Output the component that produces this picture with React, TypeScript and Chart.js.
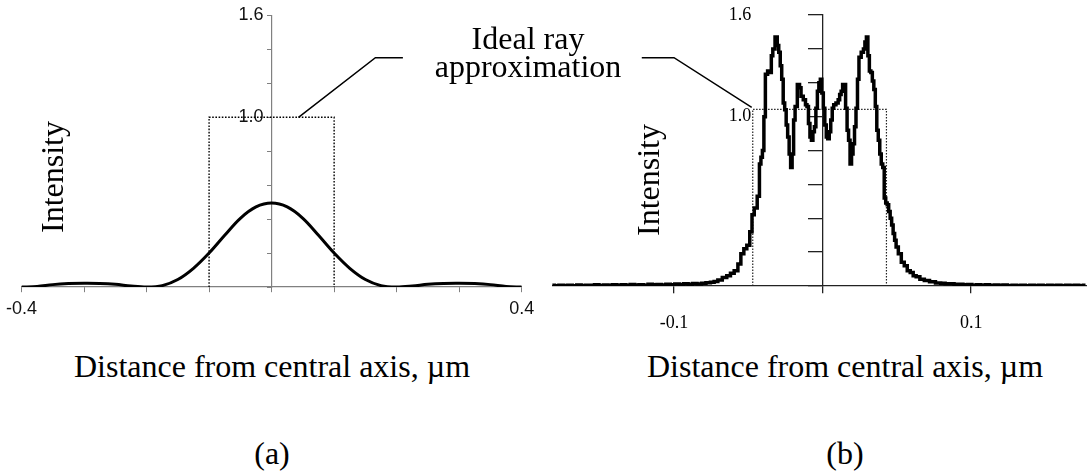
import React, { useEffect, useRef } from "react";
import { Chart, registerables } from "chart.js";

Chart.register(...registerables);

// ---------- Panel (a): data ----------
const aX = [
  -0.4, -0.375, -0.35, -0.325, -0.3, -0.275, -0.25, -0.225, -0.2, -0.175, -0.15, -0.125, -0.1, -0.075, -0.05, -0.025,
  0, 0.025, 0.05, 0.075, 0.1, 0.125, 0.15, 0.175, 0.2, 0.225, 0.25, 0.275, 0.3, 0.325, 0.35, 0.375, 0.4,
];
const aIntensity = [
  0.0, 0.003, 0.014, 0.02, 0.022, 0.021, 0.016, 0.006, 0.0, 0.008, 0.044, 0.11, 0.2, 0.305, 0.405, 0.472,
  0.495, 0.472, 0.405, 0.305, 0.2, 0.11, 0.044, 0.008, 0.0, 0.006, 0.016, 0.021, 0.022, 0.02, 0.014, 0.003, 0.0,
];
const aIdealX = [-0.1, -0.1, 0.1, 0.1];
const aIdealY = [0, 1.0, 1.0, 0];
const aCalloutX = [0.043, 0.166, 0.21];
const aCalloutY = [1.0, 1.351, 1.351];
const aYTickLabels = ["1.6", "1.0"];
const aXTickLabels = ["-0.4", "0.4"];

// ---------- Panel (b): data ----------
const bX = [
  // left tail
  -0.182, -0.179, -0.176, -0.173, -0.17, -0.167, -0.164, -0.161, -0.158, -0.155, -0.152, -0.149, -0.146, -0.143,
  -0.14, -0.137, -0.134, -0.131, -0.128, -0.125, -0.122, -0.119, -0.116, -0.113, -0.11, -0.107, -0.104, -0.101,
  -0.098, -0.095, -0.092, -0.089, -0.086, -0.083, -0.08, -0.077, -0.074, -0.072,
  // central part
  -0.069, -0.066, -0.063, -0.061, -0.058, -0.056, -0.054, -0.052, -0.05, -0.048, -0.047, -0.045,
  -0.043, -0.042, -0.041, -0.04, -0.039, -0.038, -0.036, -0.035, -0.034, -0.033, -0.031, -0.03, -0.029, -0.028,
  -0.027, -0.026, -0.025, -0.024, -0.023, -0.022, -0.021, -0.02, -0.019, -0.018, -0.016, -0.015, -0.014, -0.012,
  -0.011, -0.01, -0.009, -0.008, -0.007, -0.006, -0.005, -0.004, -0.003, -0.002, -0.001, 0.0, 0.001, 0.002,
  0.003, 0.004, 0.005, 0.006, 0.007, 0.008, 0.01, 0.011, 0.012, 0.013, 0.014, 0.015, 0.016, 0.017, 0.018, 0.019,
  0.02, 0.021, 0.022, 0.023, 0.024, 0.025, 0.027, 0.028, 0.029, 0.03, 0.031, 0.032, 0.033, 0.034, 0.035, 0.036,
  0.037, 0.038, 0.039, 0.04, 0.041, 0.042, 0.043, 0.044, 0.045, 0.046, 0.047, 0.048, 0.049, 0.05, 0.052, 0.054,
  0.056, 0.058, 0.06, 0.062, 0.064, 0.067, 0.07, 0.074, 0.078,
  // right tail
  0.081, 0.084, 0.087, 0.09, 0.093, 0.096, 0.099, 0.102, 0.105, 0.108, 0.111, 0.114, 0.117, 0.12, 0.123,
  0.126, 0.129, 0.132, 0.135, 0.138, 0.141, 0.144, 0.147, 0.15, 0.153, 0.156, 0.159, 0.162, 0.165, 0.168,
  0.171, 0.174, 0.177,
];
const bIntensity = [
  // left tail
  0.004, 0.002, 0.005, 0.003, 0.004, 0.002, 0.006, 0.003, 0.005, 0.004, 0.007, 0.003, 0.006, 0.004,
  0.008, 0.005, 0.007, 0.004, 0.009, 0.006, 0.008, 0.005, 0.01, 0.007, 0.009, 0.006, 0.011, 0.008,
  0.012, 0.009, 0.013, 0.011, 0.015, 0.012, 0.016, 0.019, 0.022, 0.026,
  // central part
  0.035, 0.05, 0.06, 0.075, 0.09, 0.13, 0.19, 0.22, 0.24, 0.32, 0.42, 0.46,
  0.53, 0.72, 0.76, 0.8, 1.0, 1.25, 1.27, 1.26, 1.36, 1.4, 1.47, 1.42, 1.38, 1.3,
  1.22, 1.08, 1.04, 0.95, 0.88, 0.78, 0.7, 0.78, 0.98, 1.06, 1.19, 1.17, 1.12, 1.1,
  1.07, 1.06, 0.96, 0.88, 0.86, 0.91, 0.94, 1.05, 1.15, 1.2, 1.22, 1.14, 1.05, 0.95,
  0.88, 0.87, 0.91, 0.98, 1.05, 1.07, 1.08, 1.1, 1.13, 1.15, 1.19, 1.19, 1.05, 0.92, 0.86, 0.72,
  0.78, 0.84, 0.94, 1.05, 1.22, 1.35, 1.38, 1.4, 1.44, 1.47, 1.36, 1.27, 1.26, 1.21, 1.16, 1.06,
  0.92, 0.86, 0.78, 0.72, 0.7, 0.52, 0.49, 0.48, 0.44, 0.4, 0.36, 0.31, 0.27, 0.23, 0.19, 0.14,
  0.12, 0.09, 0.08, 0.06, 0.055, 0.04, 0.033, 0.025, 0.018,
  // right tail
  0.016, 0.013, 0.014, 0.01, 0.011, 0.007, 0.009, 0.005, 0.008, 0.004, 0.007, 0.003, 0.006, 0.004, 0.006,
  0.002, 0.005, 0.003, 0.005, 0.002, 0.005, 0.003, 0.004, 0.002, 0.005, 0.003, 0.004, 0.002, 0.004, 0.003,
  0.005, 0.002, 0.004,
];
const bIdealX = [-0.047, -0.047, 0.043, 0.043];
const bIdealY = [0, 1.043, 1.043, 0];
const bCalloutX = [-0.0477, -0.1, -0.1217];
const bCalloutY = [1.055, 1.348, 1.348];
const bYTickLabels = ["1.6", "1.0"];
const bXTickLabels = ["-0.1", "0.1"];

// ---------- Text ----------
const calloutText = ["Ideal ray", "approximation"];
const yTitle = "Intensity";
const xTitle = "Distance from central axis, \u00b5m";
const panelLabels = ["(a)", "(b)"];

const SERIF = '"Liberation Serif", "Times New Roman", Times, serif';
const SANS = '"Liberation Sans", Arial, Helvetica, sans-serif';

const pts = (xs: number[], ys: number[]) => xs.map((x, i) => ({ x, y: ys[i] }));
const pick = (labels: string[]) => (v: number | string) => {
  const s = Number(v).toFixed(1);
  return labels.includes(s) ? s : "";
};

function lineSet(data: { x: number; y: number }[], color: string, width: number, order: number, extra: object = {}) {
  return {
    data,
    showLine: true,
    borderColor: color,
    borderWidth: width,
    pointRadius: 0,
    tension: 0,
    order,
    ...extra,
  };
}

function buildA() {
  return {
    type: "scatter" as const,
    data: {
      datasets: [
        lineSet(pts(aX, aIntensity), "#000", 3, 0, { tension: 0.35 }),
        lineSet(pts(aIdealX, aIdealY), "#000", 1.4, 1, { borderDash: [1.6, 1.6] }),
        lineSet(pts(aCalloutX, aCalloutY), "#000", 1.5, 2),
      ],
    },
    options: {
      responsive: false,
      animation: false as const,
      layout: { padding: { left: 20.7, right: 23.3, top: 15.5, bottom: 53 } },
      plugins: { legend: { display: false }, tooltip: { enabled: false } },
      scales: {
        x: {
          type: "linear" as const,
          min: -0.4,
          max: 0.4,
          position: { y: 0 },
          ticks: {
            stepSize: 0.1,
            autoSkip: false,
            maxRotation: 0,
            includeBounds: false,
            padding: 6,
            color: "#111",
            font: { family: SANS, size: 18 },
            callback: pick(aXTickLabels),
          },
          grid: { drawOnChartArea: false, drawTicks: true, tickLength: 5, color: "#808080", lineWidth: 1 },
          border: { display: true, color: "#808080", width: 1.2 },
        },
        y: {
          type: "linear" as const,
          min: 0,
          max: 1.6,
          position: { x: 0 },
          ticks: { stepSize: 0.2, autoSkip: false, callback: () => "" },
          grid: { drawOnChartArea: false, drawTicks: true, tickLength: 4, color: "#808080", lineWidth: 1 },
          border: { display: true, color: "#808080", width: 1.2 },
        },
        y2: {
          type: "linear" as const,
          min: 0,
          max: 1.6,
          position: { x: -0.013 },
          ticks: {
            stepSize: 0.2,
            autoSkip: false,
            padding: 0,
            color: "#111",
            font: { family: SANS, size: 18 },
            callback: pick(aYTickLabels),
          },
          grid: { display: false, drawTicks: false, tickLength: 0 },
          border: { display: false },
        },
      },
    },
  };
}

function buildB() {
  return {
    type: "scatter" as const,
    data: {
      datasets: [
        lineSet(pts(bX, bIntensity), "#000", 3.5, 0, { stepped: "middle" }),
        lineSet(pts(bIdealX, bIdealY), "#222", 1.2, 1, { borderDash: [1.5, 1.5] }),
        lineSet(pts(bCalloutX, bCalloutY), "#000", 1.5, 2),
      ],
    },
    options: {
      responsive: false,
      animation: false as const,
      layout: { padding: { left: 7.2, right: 0, top: 15, bottom: 54 } },
      plugins: { legend: { display: false }, tooltip: { enabled: false } },
      scales: {
        x: {
          type: "linear" as const,
          min: -0.182,
          max: 0.178,
          position: { y: 0 },
          ticks: {
            stepSize: 0.1,
            autoSkip: false,
            maxRotation: 0,
            includeBounds: false,
            padding: 19,
            color: "#000",
            font: { family: SERIF, size: 18 },
            callback: pick(bXTickLabels),
          },
          grid: { drawOnChartArea: false, drawTicks: true, tickLength: 7, color: "#222", lineWidth: 1.3 },
          border: { display: true, color: "#222", width: 1.3 },
        },
        y: {
          type: "linear" as const,
          min: 0,
          max: 1.6,
          position: { x: 0 },
          ticks: { stepSize: 0.2, autoSkip: false, callback: () => "" },
          grid: { drawOnChartArea: false, drawTicks: true, tickLength: 14, color: "#222", lineWidth: 1.3 },
          border: { display: true, color: "#222", width: 1.3 },
        },
        y2: {
          type: "linear" as const,
          min: 0,
          max: 1.6,
          position: { x: -0.048 },
          ticks: {
            stepSize: 0.2,
            autoSkip: false,
            padding: 0,
            color: "#000",
            font: { family: SERIF, size: 18 },
            callback: pick(bYTickLabels),
          },
          grid: { display: false, drawTicks: false, tickLength: 0 },
          border: { display: false },
        },
      },
    },
  };
}

const textBase: React.CSSProperties = {
  position: "absolute",
  fontFamily: SERIF,
  fontSize: 32,
  lineHeight: "32px",
  color: "#000",
  whiteSpace: "nowrap",
};

function Centered({ x, top, children }: { x: number; top: number; children: React.ReactNode }) {
  return <div style={{ ...textBase, left: x, top, transform: "translateX(-50%)" }}>{children}</div>;
}

function Rotated({ cx, cy, children }: { cx: number; cy: number; children: React.ReactNode }) {
  return (
    <div style={{ ...textBase, left: cx, top: cy, transform: "translate(-50%, -50%) rotate(-90deg)" }}>{children}</div>
  );
}

export default function App() {
  const refA = useRef<HTMLCanvasElement | null>(null);
  const refB = useRef<HTMLCanvasElement | null>(null);

  useEffect(() => {
    const ca = new Chart(refA.current as HTMLCanvasElement, buildA() as any);
    const cb = new Chart(refB.current as HTMLCanvasElement, buildB() as any);
    return () => {
      ca.destroy();
      cb.destroy();
    };
  }, []);

  return (
    <div
      style={{
        position: "fixed",
        left: 0,
        top: 0,
        width: 1087,
        height: 472,
        background: "#fff",
        overflow: "hidden",
      }}
    >
      <canvas ref={refA} width={545} height={340} style={{ position: "absolute", left: 0, top: 0 }} />
      <canvas ref={refB} width={542} height={340} style={{ position: "absolute", left: 545, top: 0 }} />

      <Centered x={528} top={21.5}>{calloutText[0]}</Centered>
      <Centered x={528} top={50}>{calloutText[1]}</Centered>

      <Rotated cx={52} cy={176.7}>{yTitle}</Rotated>
      <Rotated cx={647.5} cy={180}>{yTitle}</Rotated>

      <Centered x={272} top={350}>{xTitle}</Centered>
      <Centered x={845} top={350}>{xTitle}</Centered>

      <Centered x={272} top={437}>{panelLabels[0]}</Centered>
      <Centered x={845} top={437}>{panelLabels[1]}</Centered>
    </div>
  );
}
